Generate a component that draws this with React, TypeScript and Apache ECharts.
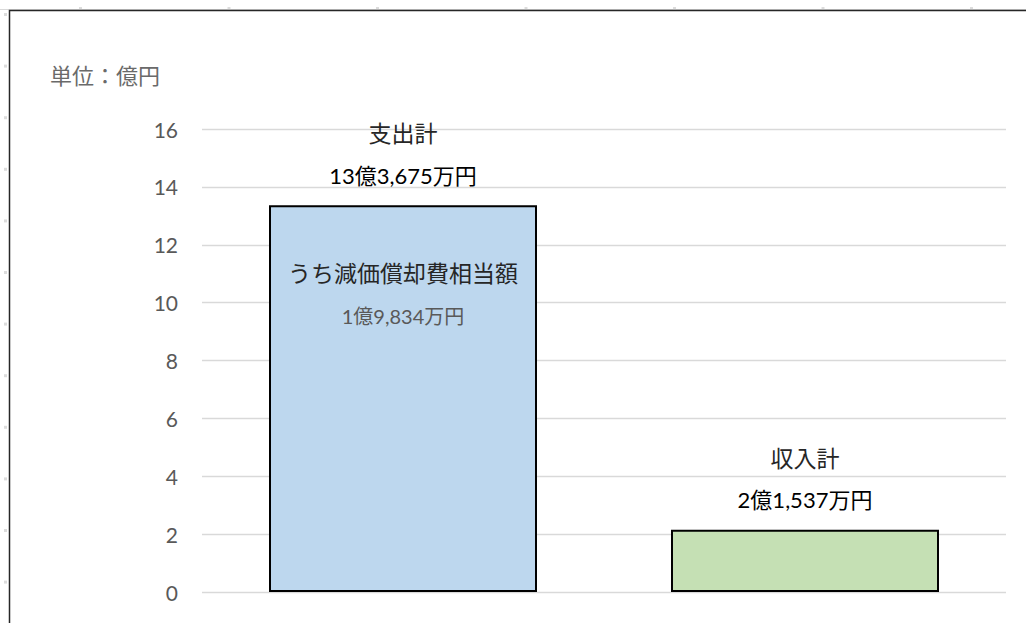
import React, { useEffect, useRef } from "react";
import * as echarts from "echarts";

const categories = ["支出計", "収入計"];
const totals = [13.3675, 2.1537];
const depreciation = [1.9834, null];
const barColors = ["#BDD7EE", "#C5E0B4"];
const yTicks = { min: 0, max: 16, interval: 2 };
const unitText = "単位：億円";
const depLabel = "うち減価償却費相当額";

const FONT = "Lato, 'Noto Sans CJK JP', sans-serif";

function fmtOku(v: number): string {
  const oku = Math.floor(v);
  const man = Math.round((v - oku) * 10000);
  const manStr = man.toLocaleString("en-US");
  return `${oku}億${manStr}万円`;
}

export default function App() {
  const ref = useRef<HTMLDivElement>(null);
  useEffect(() => {
    if (!ref.current) return;
    const chart = echarts.init(ref.current, null, { renderer: "svg" });
    const deco: any[] = [];
    deco.push({
      type: "line",
      shape: { x1: 0, y1: 9.5, x2: 1026, y2: 9.5 },
      style: { stroke: "#d9d9d9", lineWidth: 1 },
      silent: true,
    });
    for (let i = 0; i < 7; i++) {
      deco.push({
        type: "rect",
        shape: { x: 79 + i * 148.5, y: 7, width: 3, height: 3 },
        style: { fill: "#dcdcdc" },
        silent: true,
      });
    }
    for (let i = 0; i < 12; i++) {
      deco.push({
        type: "rect",
        shape: { x: 4, y: 13 + i * 51.6, width: 3, height: 3 },
        style: { fill: "#dcdcdc" },
        silent: true,
      });
    }
    deco.push({
      type: "rect",
      shape: { x: 9.5, y: 10.5, width: 1030, height: 630 },
      style: { fill: "none", stroke: "#262626", lineWidth: 1.5 },
      silent: true,
    });
    deco.push({
      type: "text",
      left: 50,
      top: 64,
      style: {
        text: unitText,
        fill: "#6a6a6a",
        font: `22px ${FONT}`,
      },
      silent: true,
    });

    chart.setOption({
      animation: false,
      backgroundColor: "#ffffff",
      grid: { left: 202, right: 20, top: 129, bottom: 31, containLabel: false },
      xAxis: {
        type: "category",
        data: categories,
        axisLine: { show: false },
        axisTick: { show: false },
        axisLabel: { show: false },
      },
      yAxis: {
        type: "value",
        min: yTicks.min,
        max: yTicks.max,
        interval: yTicks.interval,
        axisLine: { show: false },
        axisTick: { show: false },
        axisLabel: {
          color: "#595959",
          fontSize: 21,
          fontFamily: FONT,
          margin: 24,
        },
        splitLine: { lineStyle: { color: "#d9d9d9", width: 1.3 } },
      },
      series: [
        {
          type: "bar",
          barWidth: 268,
          barGap: "-100%",
          data: totals.map((v, i) => ({
            value: v,
            itemStyle: { color: barColors[i], borderColor: "#000", borderWidth: 2 },
          })),
          label: {
            show: true,
            position: "top",
            distance: 9,
            formatter: (p: any) => `{a|${categories[p.dataIndex]}}\n{b|${fmtOku(p.value)}}`,
            rich: {
              a: { fontSize: 23, fontFamily: FONT, color: "#262626", lineHeight: 42 },
              b: { fontSize: 22, fontFamily: FONT, color: "#000", lineHeight: 42 },
            },
          },
        },
        {
          type: "bar",
          barWidth: 268,
          barGap: "-100%",
          silent: true,
          itemStyle: { color: "rgba(0,0,0,0)" },
          data: totals.map((v, i) => (depreciation[i] == null ? "-" : v)),
          label: {
            show: true,
            position: "insideTop",
            distance: 46,
            formatter: (p: any) =>
              depreciation[p.dataIndex] == null
                ? ""
                : `{a|${depLabel}}\n{b|${fmtOku(depreciation[p.dataIndex] as number)}}`,
            rich: {
              a: { fontSize: 23, fontFamily: FONT, color: "#262626", lineHeight: 43 },
              b: { fontSize: 20, fontFamily: FONT, color: "#595959", lineHeight: 43 },
            },
          },
        },
      ],
      graphic: deco,
    });
    return () => chart.dispose();
  }, []);
  return (
    <div
      ref={ref}
      style={{ position: "absolute", left: 0, top: 0, width: 1026, height: 623 }}
    />
  );
}
